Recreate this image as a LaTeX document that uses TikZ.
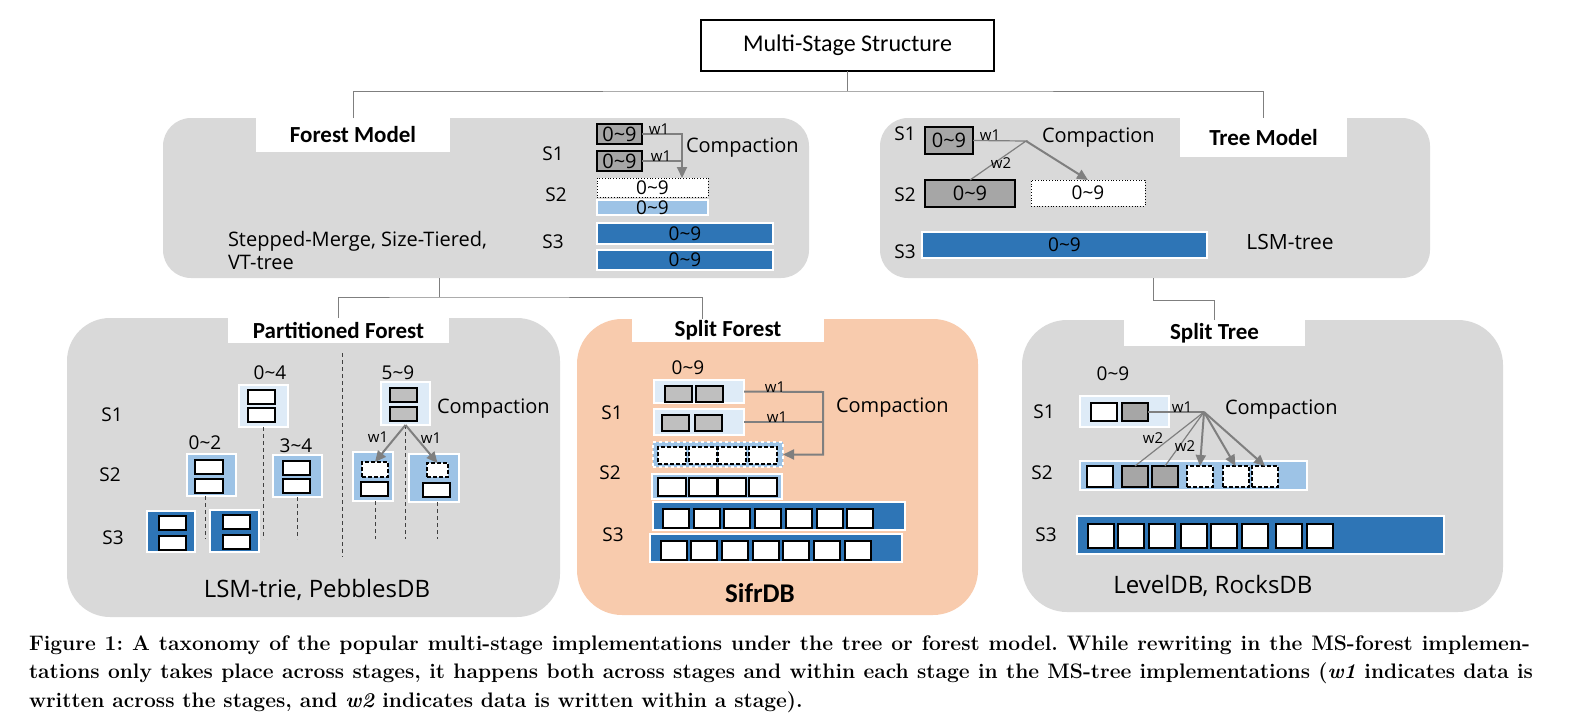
\documentclass[tikz,border=0pt]{standalone}
\usepackage{fontspec}
\usepackage{graphicx}
\usetikzlibrary{arrows.meta}
\usetikzlibrary{positioning}
\newfontfamily\bodyfont{Open Sans}
\newfontfamily\headfont{Carlito}
\definecolor{panelgray}{HTML}{D9D9D9}
\definecolor{peach}{HTML}{F8CBAD}
\definecolor{paleblue}{HTML}{DEEBF7}
\definecolor{midblue}{HTML}{9DC3E6}
\definecolor{deepblue}{HTML}{2E75B6}
\definecolor{cellgray}{HTML}{A6A6A6}
\definecolor{lightcell}{HTML}{BFBFBF}
\definecolor{wire}{HTML}{7F7F7F}
\newcommand{\fsz}[1]{\fontsize{#1}{#1}\selectfont}
\newcommand{\rng}[2]{#1\textasciitilde#2}
\frenchspacing
\begin{document}
\begin{tikzpicture}[x=1pt,y=-1pt,
  every node/.style={inner sep=0pt,outer sep=0pt},
  panel/.style={fill=panelgray,rounded corners=#1},panel/.default=28pt,
  tab/.style={fill=white,font=\headfont\bfseries\fsz{23}},
  lbl/.style={font=\bodyfont\fsz{19}},
  wlbl/.style={font=\bodyfont\fsz{15}},
  note/.style={font=\bodyfont\fsz{20}},
  example/.style={font=\bodyfont\fsz{24}},
  link/.style={draw=wire,line width=1pt},
  wire2/.style={draw=wire,line width=2pt},
  thinwire/.style={draw=wire,line width=1.2pt},
  flow/.style={wire2,-{Triangle[length=11pt,width=10pt]}},
  guide/.style={draw=black!75,line width=1pt,dash pattern=on 4pt off 3pt},
  stage1/.style={fill=paleblue,draw=white,line width=1.5pt},
  stage2/.style={fill=midblue,draw=white,line width=1.5pt},
  stage3/.style={fill=deepblue,draw=white,line width=1.5pt},
  oldrun/.style={fill=cellgray,draw=black,line width=2.5pt,font=\bodyfont\fsz{20}},
  newrun/.style={fill=white,draw=black,line width=0.8pt,dotted,font=\bodyfont\fsz{19}},
  cell/.style={fill=white,draw=black,line width=2pt},
  oldcell/.style={cell,fill=lightcell},
  darkcell/.style={cell,fill=cellgray},
  newcell/.style={cell,dash pattern=on 4pt off 2pt},
  wh/.style 2 args={minimum width=#1pt,minimum height=#2pt}]
\useasboundingbox (0,0) rectangle (1582,726);

% taxonomy
\node[draw,line width=2pt,wh={293}{51},font=\headfont\fsz{24}] (root) at (847.5,45.5) {Multi-Stage Structure};
\node[panel,wh={646}{160}] (forest) at (486,198) {};
\node[panel,wh={550}{160}] (tree) at (1155,198) {};
\node[panel=43pt,wh={493}{299}] (part) at (313.5,467.5) {};
\node[panel=45pt,fill=peach,wh={401}{296}] (split) at (777.5,467) {};
\node[panel=45pt,wh={481}{292}] (stree) at (1262.5,466) {};
\node[tab,wh={194}{34}] (forestT) at (353,135) {Forest Model};
\node[tab,wh={167}{39}] (treeT) at (1263.5,137.5) {Tree Model};
\node[tab,wh={221}{25}] (partT) at (338.5,330.5) {Partitioned Forest};
\node[tab,wh={192}{23}] (splitT) at (728,330.5) {Split Forest};
\node[tab,wh={181}{26}] (streeT) at (1214.5,333) {Split Tree};
\coordinate (j0) at (847.5,91);
\coordinate (j1) at (439,297);
\coordinate (j2) at (1153,300);
\draw[link] (root.south) -- (j0);
\draw[link] (forestT.north) |- (j0) -| (treeT.north);
\draw[link] (j1 |- forest.south) -- (j1);
\draw[link] (partT.north) |- (j1) -| ([xshift=-26pt]splitT.north);
\draw[link] (j2 |- tree.south) -- (j2) -| (streeT.north);

% forest model
\node[lbl] (fS1) at (553,154) {S1};
\node[lbl] (fS2) at (556,195) {S2};
\node[lbl] (fS3) at (553,242) {S3};
\node[oldrun,wh={45}{20}] (fa) at (619.5,134) {\rng09};
\node[oldrun,wh={45}{20}] (fb) at (619.5,161) {\rng09};
\node[newrun,wh={111}{19}] (fnew) at (652.5,187.5) {\rng09};
\node[stage2,wh={111}{15},font=\bodyfont\fsz{19}] (fmid) at (652.5,207.5) {\rng09};
\node[stage3,wh={176}{21},font=\bodyfont\fsz{19}] (fdeep1) at (685,233.5) {\rng09};
\node[stage3,wh={176}{20},font=\bodyfont\fsz{19}] (fdeep2) at (685,260) {\rng09};
\coordinate (fturn) at (682,134);
\draw[flow] (fa.east) -- (fturn) -- (fturn |- fnew.north);
\draw[wire2] (fb.east) -- (fb.east -| fturn);
\node[wlbl,anchor=south] (fw1) at (659,134) {w1};
\node[wlbl,anchor=south] (fw2) at (661,161) {w1};
\node[note,anchor=west] (fcomp) at (686,148) {Compaction};
\node[note,anchor=west,align=left,font=\bodyfont\fontsize{20}{23}\selectfont] (fex) at (228,250.5) {Stepped-Merge, Size-Tiered,\\VT-tree};

% tree model
\node[lbl] (tS1) at (905,134) {S1};
\node[lbl] (tS2) at (905,195) {S2};
\node[lbl] (tS3) at (905,252) {S3};
\node[oldrun,wh={48}{27}] (ta) at (949,140.5) {\rng09};
\node[oldrun,wh={90}{27}] (tb) at (970,193.5) {\rng09};
\node[newrun,wh={114}{26}] (tnew) at (1088,193) {\rng09};
\node[stage3,wh={285}{26},font=\bodyfont\fsz{19}] (tdeep) at (1064.5,245) {\rng09};
\coordinate (tfork) at (1026,141);
\draw[thinwire] (ta.east) -- (tfork) -- (tb.north);
\draw[flow] (tfork) -- (tnew.north);
\node[wlbl,anchor=south] (tw1) at (990,140) {w1};
\node[wlbl] (tw2) at (1001,163) {w2};
\node[note,anchor=west] (tcomp) at (1042,138) {Compaction};
\node[note,font=\bodyfont\fsz{21}] (tex) at (1290,242) {LSM-tree};

% partitioned forest
\node[lbl] (pS1) at (112,415) {S1};
\node[lbl] (pS2) at (110,475) {S2};
\node[lbl] (pS3) at (113,538) {S3};
\node[lbl] (r04) at (270,373) {\rng04};
\node[lbl] (r02) at (205,443) {\rng02};
\node[lbl] (r34) at (296,446) {\rng34};
\node[lbl] (r59) at (398,373) {\rng59};
\node[stage1,wh={49}{42}] (p04) at (263.5,406) {};
\node[stage2,wh={49}{42}] (p02) at (211.5,475) {};
\node[stage2,wh={49}{42}] (p34) at (297.5,476) {};
\node[stage3,wh={48}{41}] (p3a) at (171,531.5) {};
\node[stage3,wh={49}{42}] (p3b) at (234.5,531) {};
\node[stage1,wh={49}{43}] (p59) at (405.5,403.5) {};
\node[stage2,wh={40}{49}] (pl) at (373,476.5) {};
\node[stage2,wh={50}{48}] (pr) at (434,478) {};
\foreach \y [count=\i] in {397,415} \node[cell,wh={27}{14}] (p04c\i) at (261.5,\y) {};
\foreach \y [count=\i] in {467,485.5} \node[cell,wh={28}{14}] (p02c\i) at (209,\y) {};
\foreach \y [count=\i] in {468,486} \node[cell,wh={27}{14}] (p34c\i) at (296.5,\y) {};
\foreach \y [count=\i] in {523,543} \node[cell,wh={27}{14}] (p3ac\i) at (172.5,\y) {};
\foreach \y [count=\i] in {522,542} \node[cell,wh={27}{14}] (p3bc\i) at (236.5,\y) {};
\foreach \y [count=\i] in {395,414} \node[oldcell,wh={27}{14}] (p59c\i) at (403.5,\y) {};
\node[newcell,wh={26}{15}] (plN) at (375,469.5) {};
\node[cell,wh={27}{14}] (plO) at (374.5,489) {};
\node[newcell,wh={21}{14}] (prN) at (437.5,470) {};
\node[cell,wh={27}{14}] (prO) at (436.5,490) {};
\coordinate (pbot) at (0,539);
\draw[guide] ([xshift=-6pt]p02.south) -- ([xshift=-6pt]p02.south |- pbot);
\draw[guide] (p04.south) -- (p04.south |- pbot);
\draw[guide] (p34.south) -- (p34.south |- pbot);
\draw[guide] (p59.south) -- (p59.south |- pbot);
\draw[guide] (plN.south |- pl.south) -- (plN.south |- pbot);
\draw[guide] (prN.south |- pr.south) -- (prN.south |- pbot);
\draw[guide] (342,353) -- (342,557);
\draw[flow] (p59.south) -- (plN.north);
\draw[flow] (p59.south) -- (prN.north);
\node[wlbl] (pw1) at (378,437) {w1};
\node[wlbl] (pw2) at (431,438) {w1};
\node[note,anchor=west] (pcomp) at (437,409) {Compaction};
\node[example] (pex) at (317,590) {LSM-trie, PebblesDB};

% split forest
\node[lbl] (sS1) at (612,413) {S1};
\node[lbl] (sS2) at (610,473) {S2};
\node[lbl] (sS3) at (613,535) {S3};
\node[lbl] (s09) at (688,368) {\rng09};
\node[stage1,wh={90}{23}] (s1a) at (699,391.5) {};
\node[stage1,wh={90}{26}] (s1b) at (699,422) {};
\node[stage2,dashed,wh={130}{25}] (s2a) at (718,454.5) {};
\node[stage2,wh={130}{25}] (s2b) at (717,486.5) {};
\node[stage3,wh={252}{28}] (s3a) at (779,516) {};
\node[stage3,wh={252}{28}] (s3b) at (776,548) {};
\foreach \x [count=\i] in {678.5,709.5} \node[oldcell,wh={27}{16}] (s1ac\i) at (\x,394) {};
\foreach \x [count=\i] in {675,708.5} \node[oldcell,wh={27}{16}] (s1bc\i) at (\x,423) {};
\foreach \x [count=\i] in {672,702.5,732,763} \node[newcell,wh={28}{17}] (s2ac\i) at (\x,455.5) {};
\foreach \x [count=\i] in {672,702.5,732,763} \node[cell,wh={28}{18}] (s2bc\i) at (\x,487) {};
\foreach \i in {1,...,7} \node[cell,wh={26}{19}] (s3ac\i) at (676+30.7*\i-30.7,518.5) {};
\foreach \i in {1,...,7} \node[cell,wh={26}{19}] (s3bc\i) at (673.5+30.7*\i-30.7,550) {};
\coordinate (sturn) at (823,392);
\draw[flow] (s1a.east) -- (sturn) |- (s2a.east);
\draw[wire2] (s1b.east) -- (s1b.east -| sturn);
\node[wlbl,anchor=south] (sw1) at (775,392) {w1};
\node[wlbl,anchor=south] (sw2) at (777,422) {w1};
\node[note,anchor=west] (scomp) at (836,408) {Compaction};
\node[font=\headfont\bfseries\fsz{27}] (sex) at (760,593) {SifrDB};

% split tree
\node[lbl] (uS1) at (1044,412) {S1};
\node[lbl] (uS2) at (1042,473) {S2};
\node[lbl] (uS3) at (1046,535) {S3};
\node[lbl] (u09) at (1113,374) {\rng09};
\node[stage1,wh={89}{31}] (u1) at (1124.5,411.5) {};
\node[stage2,wh={227}{29}] (u2) at (1193.5,475.5) {};
\node[stage3,wh={367}{38}] (u3) at (1260.5,535) {};
\node[cell,wh={26}{18}] (u1c1) at (1104,412) {};
\node[darkcell,wh={26}{18}] (u1c2) at (1135,412) {};
\node[cell,wh={26}{21}] (u2c1) at (1100,476.5) {};
\foreach \x [count=\i from 2] in {1135,1165} \node[darkcell,wh={26}{21}] (u2c\i) at (\x,476.5) {};
\foreach \x [count=\i from 4] in {1200,1235.5,1265} \node[newcell,wh={26}{21}] (u2c\i) at (\x,476.5) {};
\foreach \x [count=\i] in {1101,1131,1161.5,1194,1224,1255,1289,1320} \node[cell,wh={26}{24}] (u3c\i) at (\x,536) {};
\coordinate (ufork) at (1204,412);
\draw[thinwire] (u1c2.east) -- (ufork);
\foreach \i in {2,3} \draw[thinwire] (ufork) -- (u2c\i.north);
\foreach \i in {4,5,6} \draw[flow] (ufork) -- (u2c\i.north);
\node[wlbl,anchor=south] (uw1) at (1182,412) {w1};
\node[wlbl] (uw2) at (1153,438) {w2};
\node[wlbl] (uw3) at (1185,446) {w2};
\node[note,anchor=west] (ucomp) at (1225,410) {Compaction};
\node[example] (uex) at (1213,586) {LevelDB, RocksDB};

% caption
\node[anchor=base west,font=\bfseries\fsz{21}] (cap1) at (29,650) {\makebox[1501pt][s]{Figure 1: A taxonomy of the popular multi-stage implementations under the tree or forest model. While rewriting in the MS-forest implemen-}};
\node[anchor=base west,font=\bfseries\fsz{21}] (cap2) at (29,678) {\makebox[1504pt][s]{tations only takes place across stages, it happens both across stages and within each stage in the MS-tree implementations (\textit{w1} indicates data is}};
\node[anchor=base west,font=\bfseries\fsz{21}] (cap3) at (29,707) {written across the stages, and \textit{w2} indicates data is written within a stage).};
\end{tikzpicture}
\end{document}
